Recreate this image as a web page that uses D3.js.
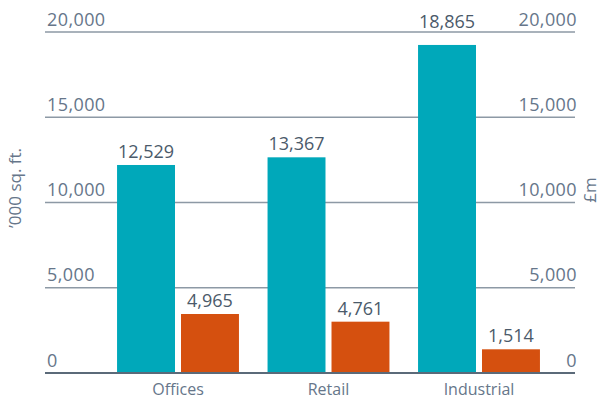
<!DOCTYPE html>
<html>
<head>
<meta charset="utf-8">
<script src="https://cdn.jsdelivr.net/npm/d3@7"></script>
<style>
  body { margin: 0; background: #fff; }
  text { font-family: "Open Sans", "Noto Sans", sans-serif; }
</style>
</head>
<body>
<div id="chart"></div>
<script>
// categories and series
const categories = ["Offices", "Retail", "Industrial"]
// bar heights as drawn against the axis ('000 sq. ft. / £m)
const areaValues = [12200, 12650, 19240]
const valueValues = [3460, 3010, 1390]
// printed figures above the bars
const areaLabels = ["12,529", "13,367", "18,865"]
const valueLabels = ["4,965", "4,761", "1,514"]
const ticks = [0, 5000, 10000, 15000, 20000]

const width = 602
const height = 400
const margin = {top: 32, right: 27, bottom: 27, left: 45}

const svg = d3.select("#chart")
    .append("svg")
    .attr("width", width)
    .attr("height", height)

const grid = svg.append("g")
const bars = svg.append("g")
const axes = svg.append("g")

const y = d3.scaleLinear()
    .domain([0, 20000])
    .range([height - margin.bottom, margin.top])

const x = d3.scaleBand()
    .domain(categories)
    .range([102, 555])
    .paddingInner(0.19)
    .paddingOuter(0.1)

const x1 = d3.scaleBand()
    .domain(["area", "value"])
    .range([0, x.bandwidth()])
    .paddingInner(0.094)

const colors = {area: "#00a8ba", value: "#d5500f"}

const rows = categories.map((c, i) => ({
    cat: c,
    items: [
        {key: "area", v: areaValues[i], label: areaLabels[i]},
        {key: "value", v: valueValues[i], label: valueLabels[i]}
    ]
}))

// gridlines
grid.selectAll("line")
    .data(ticks.filter(d => d > 0))
    .join("line")
    .attr("x1", margin.left)
    .attr("x2", width - margin.right)
    .attr("y1", d => y(d))
    .attr("y2", d => y(d))
    .attr("stroke", "#8d99a5")
    .attr("stroke-width", 1.5)

// bars
const groups = bars.selectAll("g")
    .data(rows)
    .join("g")
    .attr("transform", d => `translate(${x(d.cat)},0)`)

groups.selectAll("rect")
    .data(d => d.items)
    .join("rect")
    .attr("x", d => x1(d.key))
    .attr("width", x1.bandwidth())
    .attr("y", d => y(d.v))
    .attr("height", d => y(0) - y(d.v))
    .attr("fill", d => colors[d.key])

// value labels, nudged above a gridline if they would sit on it
const labelY = d => {
    let ly = y(d.v) - 7
    ticks.forEach(t => {
        const gy = y(t)
        if (t > 0 && gy > ly - 15 && gy < ly + 4) ly = gy - 4
    })
    return ly
}

groups.selectAll("text")
    .data(d => d.items)
    .join("text")
    .attr("x", d => x1(d.key) + x1.bandwidth() / 2)
    .attr("y", labelY)
    .attr("text-anchor", "middle")
    .attr("font-size", 18)
    .attr("fill", "#4b5a6a")
    .text(d => d.label)

// baseline
axes.append("line")
    .attr("x1", margin.left)
    .attr("x2", width - margin.right)
    .attr("y1", y(0))
    .attr("y2", y(0))
    .attr("stroke", "#5b6a79")
    .attr("stroke-width", 2)

// left ticks
axes.append("g")
    .selectAll("text")
    .data(ticks)
    .join("text")
    .attr("x", margin.left + 2)
    .attr("y", d => y(d) - 6.5)
    .attr("font-size", 18)
    .attr("letter-spacing", 0.4)
    .attr("fill", "#66768a")
    .text(d => d3.format(",")(d))

// right ticks
axes.append("g")
    .selectAll("text")
    .data(ticks)
    .join("text")
    .attr("x", width - margin.right + 2)
    .attr("y", d => y(d) - 6.5)
    .attr("text-anchor", "end")
    .attr("font-size", 18)
    .attr("letter-spacing", 0.4)
    .attr("fill", "#66768a")
    .text(d => d3.format(",")(d))

// category labels
axes.append("g")
    .selectAll("text")
    .data(categories)
    .join("text")
    .attr("x", d => x(d) + x.bandwidth() / 2)
    .attr("y", 395)
    .attr("text-anchor", "middle")
    .attr("font-size", 16)
    .attr("fill", "#66768a")
    .text(d => d)

// axis titles
axes.append("text")
    .attr("transform", "translate(21,188) rotate(-90)")
    .attr("text-anchor", "middle")
    .attr("font-size", 17)
    .attr("fill", "#66768a")
    .text("’000 sq. ft.")

axes.append("text")
    .attr("transform", "translate(596,190) rotate(-90)")
    .attr("text-anchor", "middle")
    .attr("font-size", 17)
    .attr("fill", "#66768a")
    .text("£m")
</script>
</body>
</html>
